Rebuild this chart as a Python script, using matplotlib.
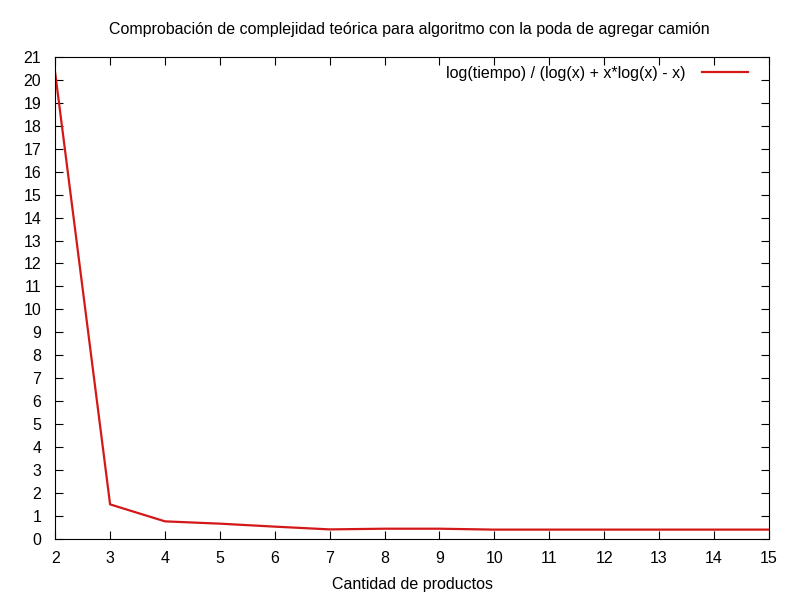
import numpy as np
import matplotlib.pyplot as plt

plt.rcParams['font.family'] = ['Liberation Sans', 'DejaVu Sans']

# Datos
cantidad = [2, 3, 4, 5, 6, 7, 8, 9, 10, 11, 12, 13, 14, 15]
cociente = [20.3, 1.5, 0.76, 0.66, 0.53, 0.41, 0.44, 0.44, 0.40, 0.40, 0.40, 0.40, 0.40, 0.40]

fs = 11.5

fig = plt.figure(figsize=(8, 6), dpi=100)
ax = fig.add_axes([0.069, 0.102, 0.892, 0.803])

ax.plot(cantidad, cociente, color='#d41818', lw=1.6,
        label='log(tiempo) / (log(x) + x*log(x) - x)')

ax.set_xlim(2, 15)
ax.set_ylim(0, 21)
ax.set_xticks(np.arange(2, 16, 1))
ax.set_yticks(np.arange(0, 22, 1))
ax.tick_params(direction='in', top=True, right=True, length=6, labelsize=fs)
ax.tick_params(axis='x', pad=9)
ax.tick_params(axis='y', pad=10)

ax.set_xlabel('Cantidad de productos', fontsize=fs, labelpad=8)
fig.suptitle('Comprobación de complejidad teórica para algoritmo con la poda de agregar camión',
             fontsize=fs, x=0.512, y=0.963)

ax.legend(loc='upper right', frameon=False, markerfirst=False, fontsize=fs,
          handlelength=2.9, handletextpad=1.0, borderaxespad=0.0,
          bbox_to_anchor=(0.98, 0.995))

fig.savefig('out.png', dpi=100)
